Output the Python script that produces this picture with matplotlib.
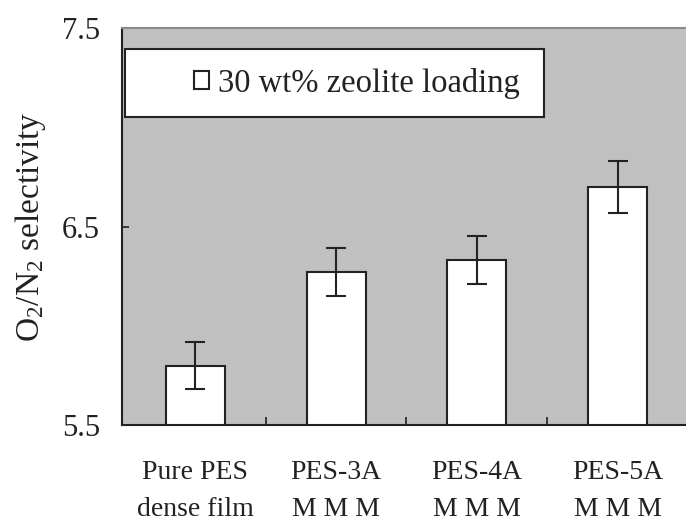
import matplotlib
matplotlib.use("Agg")
import matplotlib.pyplot as plt
from matplotlib.patches import Rectangle

plt.rcParams['font.family'] = ['Liberation Serif', 'DejaVu Serif']
plt.rcParams['mathtext.fontset'] = 'custom'
plt.rcParams['mathtext.rm'] = 'Liberation Serif'
plt.rcParams['mathtext.it'] = 'Liberation Serif:italic'

categories = ["Pure PES\ndense film", "PES-3A\nM M M", "PES-4A\nM M M", "PES-5A\nM M M"]
selectivity = [5.80, 6.27, 6.33, 6.70]
errors = [0.12, 0.12, 0.12, 0.13]
yticks = [5.5, 6.5, 7.5]
legend_label = "30 wt% zeolite loading"

fig = plt.figure(figsize=(6.86, 5.25), dpi=100)
ax = fig.add_axes([0.178, 0.190, 0.825, 0.757])
ax.set_facecolor('#c0c0c0')

x = list(range(len(categories)))
bars = ax.bar(x, selectivity, width=0.42, color='white', edgecolor='#222222',
              linewidth=1.5, label=legend_label, zorder=2)
ax.errorbar(x, selectivity, yerr=errors, fmt='none', ecolor='#222222',
            elinewidth=1.5, capsize=7, capthick=1.5, zorder=3)

ax.set_xlim(-0.52, 3.5)
ax.set_ylim(5.5, 7.5)
ax.set_yticks(yticks)
ax.set_yticklabels([str(v) for v in yticks], fontsize=22)
ax.tick_params(axis='y', direction='in', length=5, width=1.2, pad=16, colors='#222222',
               labelcolor='#222222')

ax.set_xticks(x)
ax.set_xticklabels(categories, fontsize=20, linespacing=1.62)
ax.tick_params(axis='x', which='major', length=0, pad=25, labelcolor='#222222')
ax.set_xticks([0.5, 1.5, 2.5], minor=True)
ax.tick_params(axis='x', which='minor', direction='in', length=6, width=1.2, color='#222222')

ax.set_ylabel("O$_2$/N$_2$ selectivity", fontsize=24, color='#222222', labelpad=10)

for s in ['left', 'bottom']:
    ax.spines[s].set_color('#222222')
    ax.spines[s].set_linewidth(1.5)
ax.spines['top'].set_color('#8a8a8a')
ax.spines['top'].set_linewidth(1.5)
ax.spines['right'].set_visible(False)

ax.add_patch(Rectangle((0.005, 0.776), 0.74, 0.17, transform=ax.transAxes,
                       facecolor='white', edgecolor='#222222', linewidth=1.5, zorder=4))
leg = ax.legend(loc='center', bbox_to_anchor=(0.415, 0.861), frameon=False,
                fontsize=23.5, handlelength=0.45, handleheight=0.45, handletextpad=0.3,
                borderaxespad=0)
leg.set_zorder(5)
for t in leg.get_texts():
    t.set_color('#222222')

fig.savefig("out.png", dpi=100)
